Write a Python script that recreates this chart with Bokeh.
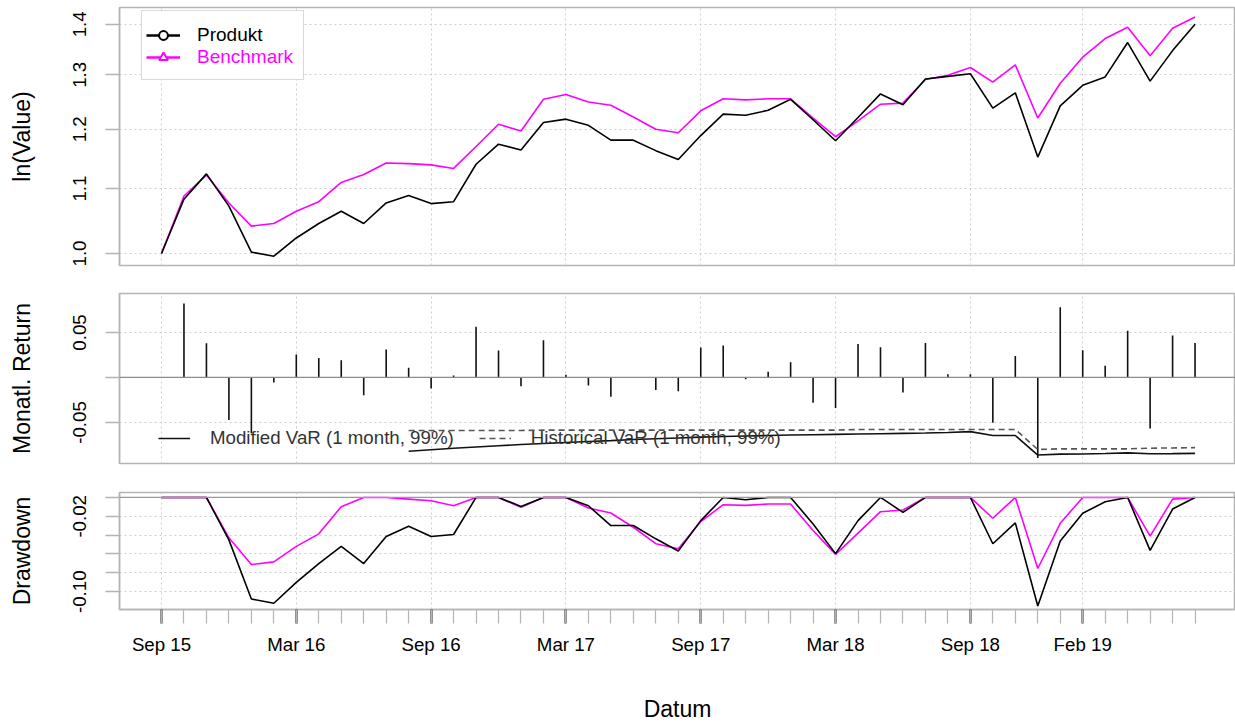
import numpy as np
import pandas as pd
from bokeh.plotting import figure
from bokeh.models import (Range1d, FixedTicker, Span, Legend, LegendItem,
                          ColumnDataSource, NumeralTickFormatter, CustomJSTickFormatter)
from bokeh.layouts import column
from bokeh.embed import file_html
from bokeh.resources import INLINE

# ---------------- data ----------------
months = list(pd.date_range("2015-09-30", periods=47, freq="ME").strftime("%Y-%m"))
tick_months = ["2015-09", "2016-03", "2016-09", "2017-03", "2017-09", "2018-03", "2018-09", "2019-02"]
tick_labels = ["Sep 15", "Mar 16", "Sep 16", "Mar 17", "Sep 17", "Mar 18", "Sep 18", "Feb 19"]

product_value = [1.000, 1.083, 1.124, 1.072, 1.002, 0.996, 1.023, 1.045, 1.064, 1.045,
                 1.077, 1.089, 1.076, 1.079, 1.140, 1.174, 1.164, 1.212, 1.218, 1.207,
                 1.181, 1.181, 1.163, 1.148, 1.189, 1.227, 1.225, 1.234, 1.254, 1.217,
                 1.180, 1.221, 1.264, 1.244, 1.292, 1.297, 1.302, 1.238, 1.266, 1.152,
                 1.242, 1.280, 1.296, 1.363, 1.288, 1.347, 1.400]
bench_value = [1.000, 1.088, 1.122, 1.077, 1.041, 1.045, 1.064, 1.079, 1.110, 1.123,
               1.142, 1.141, 1.139, 1.133, 1.170, 1.209, 1.197, 1.254, 1.263, 1.249,
               1.243, 1.222, 1.200, 1.194, 1.233, 1.255, 1.253, 1.255, 1.255, 1.220,
               1.187, 1.215, 1.245, 1.247, 1.291, 1.299, 1.314, 1.286, 1.319, 1.220,
               1.284, 1.334, 1.371, 1.394, 1.337, 1.392, 1.415]
product_return = [np.nan, 0.0821, 0.0381, -0.0474, -0.0620, -0.0056, 0.0254, 0.0216, 0.0190, -0.0198,
                  0.0310, 0.0108, -0.0123, 0.0022, 0.0563, 0.0299, -0.0097, 0.0414, 0.0030, -0.0090,
                  -0.0213, -0.0004, -0.0138, -0.0153, 0.0332, 0.0354, -0.0019, 0.0063, 0.0168, -0.0280,
                  -0.0340, 0.0373, 0.0336, -0.0168, 0.0384, 0.0037, 0.0037, -0.0504, 0.0239, -0.0896,
                  0.0780, 0.0302, 0.0131, 0.0519, -0.0567, 0.0466, 0.0384]
var_modified = [np.nan] * 11 + [
    -0.0820, -0.0803, -0.0787, -0.0772, -0.0758, -0.0745, -0.0733, -0.0722, -0.0712, -0.0702,
    -0.0690, -0.0681, -0.0672, -0.0663, -0.0656, -0.0650, -0.0645, -0.0640, -0.0636, -0.0632,
    -0.0628, -0.0625, -0.0621, -0.0617, -0.0612, -0.0602, -0.0645, -0.0645, -0.0862, -0.0852,
    -0.0850, -0.0845, -0.0838, -0.0848, -0.0846, -0.0843]
var_historical = [np.nan] * 11 + [
    -0.0589, -0.0589, -0.0589, -0.0589, -0.0589, -0.0589,
    -0.0585, -0.0585, -0.0585, -0.0585, -0.0585, -0.0585, -0.0585, -0.0585, -0.0585, -0.0585,
    -0.0585, -0.0585, -0.0585, -0.0585,
    -0.0578, -0.0578, -0.0578, -0.0578, -0.0578, -0.0578, -0.0578, -0.0578,
    -0.0800, -0.0793, -0.0793, -0.0793, -0.0793, -0.0786, -0.0783, -0.0780]
dd_product = [0, 0, 0, -0.0450, -0.1077, -0.1123, -0.0902, -0.0702, -0.0519, -0.0702,
              -0.0414, -0.0305, -0.0414, -0.0393, 0, 0, -0.0095, 0, 0, -0.0088,
              -0.0298, -0.0298, -0.0439, -0.0568, -0.0246, 0, -0.0025, 0, 0, -0.0281,
              -0.0596, -0.0246, 0, -0.0158, 0, 0, 0, -0.0491, -0.0270, -0.1151,
              -0.0463, -0.0168, -0.0046, 0, -0.0561, -0.0123, 0]
dd_bench = [0, 0, 0, -0.0428, -0.0712, -0.0684, -0.0519, -0.0386, -0.0098, 0,
            0, -0.0018, -0.0035, -0.0088, 0, 0, -0.0105, 0, 0, -0.0112,
            -0.0165, -0.0316, -0.0491, -0.0544, -0.0256, -0.0077, -0.0084, -0.0070, -0.0070, -0.0351,
            -0.0604, -0.0379, -0.0151, -0.0133, 0, 0, 0, -0.0221, 0, -0.0754,
            -0.0274, 0, 0, 0, -0.0411, -0.0018, 0]

top_ticks = [1.0, 1.1, 1.2, 1.3, 1.4]
ret_ticks = [-0.05, 0.0, 0.05]
ret_labels_shown = [-0.05, 0.05]
dd_ticks = [0.0, -0.02, -0.04, -0.06, -0.08, -0.10]
dd_labels_shown = [-0.02, -0.10]
series_names = ["Produkt", "Benchmark"]
var_names = ["Modified VaR (1 month, 99%)", "Historical VaR (1 month, 99%)"]

# ---------------- style ----------------
FONT = "Liberation Sans"
BOX = "#b4b4b4"
GRID = "#cfcfcf"
BLACK = "#000000"
MAGENTA = "#ff00ff"
TICK_FS = "18.7px"
LAB_FS = "23px"

x = list(range(len(months)))
tick_pos = [months.index(m) for m in tick_months]

src = ColumnDataSource(dict(x=x, pv=product_value, bv=bench_value, r=product_return,
                            mv=var_modified, hv=var_historical, dp=dd_product, db=dd_bench))

xr = Range1d(-1.869, 47.80)


def make_fig(height, top, bottom, y_range, y_type="linear", with_x=False):
    p = figure(width=1235, height=height, x_range=xr, y_range=y_range, y_axis_type=y_type,
               x_axis_location="below" if with_x else None, toolbar_location=None,
               output_backend="svg", min_border_left=119, min_border_right=0,
               min_border_top=top, min_border_bottom=bottom)
    p.outline_line_color = BOX
    p.outline_line_width = 1.5
    p.background_fill_color = "white"
    p.border_fill_color = "white"
    p.xgrid.ticker = FixedTicker(ticks=tick_pos)
    p.xgrid.grid_line_color = GRID
    p.xgrid.grid_line_dash = "2 3"
    p.xgrid.grid_line_width = 1
    p.ygrid.grid_line_color = GRID
    p.ygrid.grid_line_dash = "2 3"
    p.ygrid.grid_line_width = 1
    ax = p.yaxis[0]
    ax.major_label_orientation = "vertical"
    ax.major_tick_out = 14
    ax.major_tick_in = 0
    ax.minor_tick_line_color = None
    ax.major_tick_line_color = BOX
    ax.major_tick_line_width = 1.5
    ax.axis_line_color = BOX
    ax.axis_line_width = 1.5
    ax.major_label_text_font = FONT
    ax.major_label_text_font_size = TICK_FS
    ax.major_label_text_color = BLACK
    ax.major_label_standoff = 19
    ax.axis_label_text_font = FONT
    ax.axis_label_text_font_size = LAB_FS
    ax.axis_label_text_font_style = "normal"
    ax.axis_label_text_color = BLACK
    ax.axis_label_standoff = 36
    return p


# ---------- top panel: ln(Value) ----------
p1 = make_fig(279, 7, 14, Range1d(0.9825, 1.435), y_type="log")
t1 = FixedTicker(ticks=top_ticks)
p1.yaxis.ticker = t1
p1.ygrid.ticker = t1
p1.yaxis.formatter = NumeralTickFormatter(format="0.0")
p1.yaxis.axis_label = "ln(Value)"
p1.line("x", "bv", source=src, color=MAGENTA, line_width=1.6)
p1.line("x", "pv", source=src, color=BLACK, line_width=1.6)

nan_src = ColumnDataSource(dict(x=[np.nan], y=[np.nan]))
lg_pl = p1.line("x", "y", source=nan_src, color=BLACK, line_width=2.5)
lg_pc = p1.scatter("x", "y", source=nan_src, marker="circle", size=9, fill_color="white",
                   line_color=BLACK, line_width=2)
lg_bl = p1.line("x", "y", source=nan_src, color=MAGENTA, line_width=2.5)
lg_bt = p1.scatter("x", "y", source=nan_src, marker="triangle", size=11, fill_color="white",
                   line_color=MAGENTA, line_width=2)
lg_blank = p1.line("x", "y", source=nan_src, line_alpha=0)

# frame: 119..1235 x 7..265 ; legend box 141..302 x 12..80
leg_box = Legend(items=[LegendItem(label=" ", renderers=[lg_blank])],
                 location=(22, 185), padding=0, spacing=0, margin=0,
                 label_height=68, glyph_height=68, glyph_width=10, label_standoff=0,
                 label_width=151, label_text_font=FONT, label_text_font_size="19px",
                 border_line_color=BOX, border_line_width=1.5,
                 background_fill_color="white", background_fill_alpha=1.0)
p1.add_layout(leg_box)
for name, col, rends, ypos in zip(series_names, [BLACK, MAGENTA],
                                  [[lg_pl, lg_pc], [lg_bl, lg_bt]], [219, 197]):
    lg = Legend(items=[LegendItem(label=name, renderers=rends)],
                location=(27, ypos), padding=0, spacing=0, margin=0,
                label_height=22, glyph_height=22, glyph_width=34, label_standoff=17,
                label_text_font=FONT, label_text_font_size="19px", label_text_color=col,
                border_line_color=None, background_fill_alpha=0.0)
    p1.add_layout(lg)

# ---------- middle panel: monthly returns ----------
p2 = make_fig(198, 14, 14, Range1d(-0.0956, 0.0933))
t2 = FixedTicker(ticks=ret_ticks)
p2.yaxis.ticker = t2
p2.ygrid.ticker = t2
p2.yaxis.formatter = CustomJSTickFormatter(args=dict(show=ret_labels_shown), code="""
    for (const s of show) { if (Math.abs(tick - s) < 1e-9) return tick.toFixed(2); }
    return '';
""")
p2.yaxis.axis_label = "Monatl. Return"
p2.add_layout(Span(location=0, dimension="width", line_color="#8c8c8c", line_width=1.2))
p2.segment(x0="x", y0=0, x1="x", y1="r", source=src, line_color="#111111", line_width=1.6)
mv_r = p2.line("x", "mv", source=src, color="#111111", line_width=1.6)
hv_r = p2.line("x", "hv", source=src, color="#555555", line_width=1.6, line_dash="6 4")
leg2 = Legend(items=[LegendItem(label=var_names[0], renderers=[mv_r]),
                     LegendItem(label=var_names[1], renderers=[hv_r])],
              orientation="horizontal", location=(39, 14), padding=0, spacing=25, margin=0,
              label_height=22, glyph_height=22, glyph_width=32, label_standoff=20,
              label_text_font=FONT, label_text_font_size="18.7px", label_text_color="#333333",
              border_line_color=None, background_fill_alpha=0.0)
p2.add_layout(leg2)

# ---------- bottom panel: drawdown ----------
p3 = make_fig(247, 15, 114, Range1d(-0.1189, 0.00526), with_x=True)
t3 = FixedTicker(ticks=dd_ticks)
p3.yaxis.ticker = t3
p3.ygrid.ticker = t3
p3.yaxis.formatter = CustomJSTickFormatter(args=dict(show=dd_labels_shown), code="""
    for (const s of show) { if (Math.abs(tick - s) < 1e-9) return tick.toFixed(2); }
    return '';
""")
p3.yaxis.axis_label = "Drawdown"
p3.add_layout(Span(location=0, dimension="width", line_color="#9a9a9a", line_width=1.2))
p3.line("x", "db", source=src, color=MAGENTA, line_width=1.6)
p3.line("x", "dp", source=src, color=BLACK, line_width=1.6)

xa = p3.xaxis[0]
xa.ticker = FixedTicker(ticks=tick_pos, minor_ticks=x)
xa.major_label_overrides = {pos: lab for pos, lab in zip(tick_pos, tick_labels)}
xa.major_tick_out = 14
xa.major_tick_in = 0
xa.minor_tick_out = 14
xa.minor_tick_in = 0
xa.major_tick_line_color = "#222222"
xa.major_tick_line_width = 2
xa.minor_tick_line_color = "#b4b4b4"
xa.minor_tick_line_width = 1.2
xa.axis_line_color = BOX
xa.axis_line_width = 1.5
xa.major_label_text_font = FONT
xa.major_label_text_font_size = TICK_FS
xa.major_label_text_color = BLACK
xa.major_label_standoff = 10
xa.axis_label = "Datum"
xa.axis_label_text_font = FONT
xa.axis_label_text_font_size = LAB_FS
xa.axis_label_text_font_style = "normal"
xa.axis_label_text_color = BLACK
xa.axis_label_standoff = 38

layout = column(p1, p2, p3, spacing=0)
open("out.html", "w").write(file_html(layout, INLINE))
